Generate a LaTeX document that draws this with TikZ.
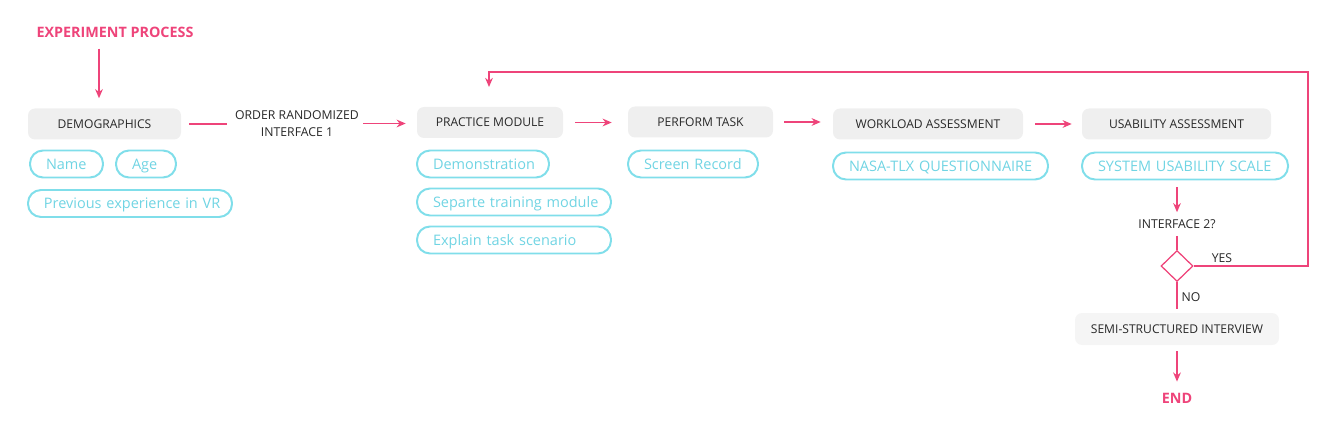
\documentclass[tikz,border=0pt]{standalone}
\usepackage{fontspec}
\setmainfont{Open Sans}
\usetikzlibrary{arrows.meta,shapes.geometric}

\definecolor{flowpink}{RGB}{238,68,122}
\definecolor{pillcyan}{RGB}{128,222,234}
\definecolor{pilltext}{RGB}{112,212,227}
\definecolor{boxgray}{RGB}{239,239,239}
\definecolor{boxlight}{RGB}{245,245,245}
\definecolor{labeltext}{RGB}{40,40,40}

\def\pxu{0.025cm}

\tikzset{
  stagebox/.style = {fill=boxgray, rounded corners=7*\pxu, minimum height=31*\pxu,
    inner sep=0pt, text=labeltext, font=\fontsize{8.6}{9}\selectfont},
  pill/.style = {draw=pillcyan, line width=1.4pt, rounded corners=13*\pxu,
    minimum height=27*\pxu, inner ysep=0pt, inner xsep=16*\pxu, align=left,
    text width=#1*\pxu-32*\pxu, text height=0.72em, text depth=0pt,
    execute at begin node={\hbox\bgroup}, execute at end node={\egroup},
    text=pilltext, font=\fontsize{10.3}{11}\selectfont},
  plainlabel/.style = {inner sep=0pt, text=labeltext, align=center,
    font=\fontsize{8.7}{12}\selectfont},
  titlelabel/.style = {inner sep=0pt, text=flowpink, font=\bfseries\fontsize{10.2}{11}\selectfont},
  flow/.style = {draw=flowpink, line width=0.9pt},
  flowarrow/.style = {flow, -{Stealth[length=6.5pt, width=5.5pt]}},
}

\begin{document}
\begin{tikzpicture}[x=0.025cm, y=-0.025cm]
  \useasboundingbox (0, 0) rectangle (1334, 439);

  % start and demographics
  \node [titlelabel] (start) at (115, 32) {EXPERIMENT PROCESS};
  \node [stagebox, minimum width=153*\pxu] (demo) at (104.5, 124) {DEMOGRAPHICS};
  \node [pill=73] (name) at (66.5, 164) {Name};
  \node [pill=60] (age) at (146, 164) {Age};
  \node [pill=204] (prevvr) at (130, 203.5) {Previous experience in VR};

  \node [plainlabel] (order) at (297, 123.5) {ORDER RANDOMIZED\\INTERFACE 1};

  % practice module
  \node [stagebox, minimum width=146*\pxu] (practice) at (490, 122.5) {PRACTICE MODULE};
  \node [pill=132] (demonstr) at (483, 164) {Demonstration};
  \node [pill=194] (training) at (514, 202) {Separte training module};
  \node [pill=194] (scenario) at (514, 240) {Explain task scenario};

  % perform task
  \node [stagebox, minimum width=145*\pxu] (perform) at (700.5, 122) {PERFORM TASK};
  \node [pill=130] (record) at (693, 164) {Screen Record};

  % workload
  \node [stagebox, minimum width=190*\pxu] (workload) at (928, 124) {WORKLOAD ASSESSMENT};
  \node [pill=215] (nasatlx) at (940.5, 166) {NASA-TLX QUESTIONNAIRE};

  % usability
  \node [stagebox, minimum width=189*\pxu] (usability) at (1176.5, 124) {USABILITY ASSESSMENT};
  \node [pill=206] (sus) at (1185, 166) {SYSTEM USABILITY SCALE};

  % decision and end
  \node [plainlabel] (iface) at (1177, 224) {INTERFACE 2?};
  \node [diamond, draw=flowpink, line width=0.9pt, minimum width=32*\pxu,
    minimum height=31*\pxu, inner sep=0pt] (check) at (1177, 266) {};
  \node [plainlabel] (yes) at (1222, 258) {YES};
  \node [plainlabel] (no) at (1191, 297) {NO};
  \node [stagebox, fill=boxlight, minimum width=204*\pxu, minimum height=32*\pxu]
    (interview) at (1177, 329) {SEMI-STRUCTURED INTERVIEW};
  \node [titlelabel] (finish) at (1177, 398) {END};
  \coordinate (loopend) at (489, 87);

  % connectors
  \draw [flowarrow, shorten <=11*\pxu, shorten >=10*\pxu]
    ([xshift=-16*\pxu]start.south) -- ([xshift=-16*\pxu]start.south |- demo.north);
  \draw [flow, shorten <=8*\pxu, shorten >=8*\pxu] (demo.east) -- (demo.east -| order.west);
  \draw [flowarrow, shorten <=4*\pxu, shorten >=11*\pxu] (order.east) -- (order.east -| practice.west);
  \draw [flowarrow, shorten <=12*\pxu, shorten >=16*\pxu] (practice.east) -- (practice.east -| perform.west);
  \draw [flowarrow, shorten <=11*\pxu, shorten >=12*\pxu] (perform.east) -- (perform.east -| workload.west);
  \draw [flowarrow, shorten <=12*\pxu, shorten >=10*\pxu] (workload.east) -- (usability.west);
  \draw [flowarrow, shorten <=7*\pxu, shorten >=7*\pxu] (iface.north |- sus.south) -- (iface.north);
  \draw [flow, shorten <=7*\pxu] (iface.south) -- (check.north);
  \draw [flowarrow] (check.east) -| (1308, 72) -| (loopend);
  \draw [flow, shorten >=4*\pxu] (check.south) -- (interview.north);
  \draw [flowarrow, shorten <=6*\pxu, shorten >=11*\pxu] (interview.south) -- (finish.north);
\end{tikzpicture}
\end{document}
